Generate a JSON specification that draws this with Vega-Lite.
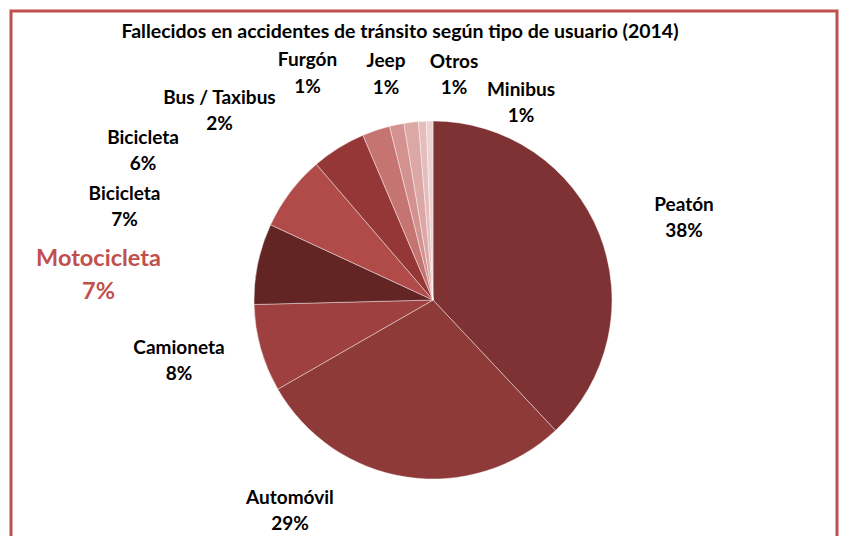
{
  "$schema": "https://vega.github.io/schema/vega-lite/v6.json",
  "width": 826,
  "height": 578,
  "autosize": "none",
  "padding": {"left": 11, "top": 11, "right": 10, "bottom": 0},
  "background": "#ffffff",
  "view": {"stroke": "#c0504d", "strokeWidth": 3},
  "title": {
    "text": "Fallecidos en accidentes de tránsito según tipo de usuario (2014)",
    "font": "Lato",
    "fontSize": 19.5,
    "fontWeight": "bold",
    "color": "#000000",
    "anchor": "middle",
    "dx": -24,
    "offset": -31
  },
  "data": {
    "values": [
      {"id": 1, "tipo": "Peatón", "pct": "38%", "valor": 38.0},
      {"id": 2, "tipo": "Automóvil", "pct": "29%", "valor": 28.7},
      {"id": 3, "tipo": "Camioneta", "pct": "8%", "valor": 7.9},
      {"id": 4, "tipo": "Motocicleta", "pct": "7%", "valor": 7.3},
      {"id": 5, "tipo": "Bicicleta", "pct": "7%", "valor": 6.8},
      {"id": 6, "tipo": "Bicicleta", "pct": "6%", "valor": 4.9},
      {"id": 7, "tipo": "Bus / Taxibus", "pct": "2%", "valor": 2.5},
      {"id": 8, "tipo": "Furgón", "pct": "1%", "valor": 1.3},
      {"id": 9, "tipo": "Jeep", "pct": "1%", "valor": 1.3},
      {"id": 10, "tipo": "Otros", "pct": "1%", "valor": 0.7},
      {"id": 11, "tipo": "Minibus", "pct": "1%", "valor": 0.6}
    ]
  },
  "transform": [
    {"stack": "valor", "groupby": [], "sort": [{"field": "id", "order": "ascending"}], "as": ["t0", "t1"]},
    {"calculate": "(datum.t0 + datum.t1) / 2", "as": "tm"},
    {"calculate": "[datum.tipo, datum.pct]", "as": "etiqueta"}
  ],
  "layer": [
    {
      "mark": {"type": "arc", "radius": 179, "xOffset": 9, "stroke": "#ffffff", "strokeWidth": 0.6, "strokeOpacity": 0.7},
      "encoding": {
        "theta": {"field": "t0", "type": "quantitative", "stack": null, "scale": {"domain": [0, 100]}},
        "theta2": {"field": "t1"},
        "color": {
          "field": "id",
          "type": "nominal",
          "legend": null,
          "scale": {
            "domain": [1, 2, 3, 4, 5, 6, 7, 8, 9, 10, 11],
            "range": ["#7f3233", "#8e3a39", "#9e403f", "#632523", "#b04b49", "#953736", "#c67471", "#d39190", "#dba8a6", "#e4bdbc", "#ecd2d2"]
          }
        }
      }
    },
    {
      "transform": [{"filter": "datum.id == 1"}],
      "mark": {"type": "text", "radius": 179, "dx": 93.6, "dy": -29.35, "font": "Lato", "fontWeight": "bold", "fontSize": 19, "lineHeight": 26.5, "align": "center", "baseline": "middle", "color": "#000000"},
      "encoding": {"theta": {"field": "tm", "type": "quantitative", "stack": null}, "text": {"field": "etiqueta"}}
    },
    {
      "transform": [{"filter": "datum.id == 2"}],
      "mark": {"type": "text", "radius": 179, "dx": -107.7, "dy": 20.65, "font": "Lato", "fontWeight": "bold", "fontSize": 19, "lineHeight": 26.5, "align": "center", "baseline": "middle", "color": "#000000"},
      "encoding": {"theta": {"field": "tm", "type": "quantitative", "stack": null}, "text": {"field": "etiqueta"}}
    },
    {
      "transform": [{"filter": "datum.id == 3"}],
      "mark": {"type": "text", "radius": 179, "dx": -72.6, "dy": -0.55, "font": "Lato", "fontWeight": "bold", "fontSize": 19, "lineHeight": 26.5, "align": "center", "baseline": "middle", "color": "#000000"},
      "encoding": {"theta": {"field": "tm", "type": "quantitative", "stack": null}, "text": {"field": "etiqueta"}}
    },
    {
      "transform": [{"filter": "datum.id == 4"}],
      "mark": {"type": "text", "radius": 179, "dx": -150.2, "dy": -5.2, "font": "Lato", "fontWeight": "bold", "fontSize": 23.5, "lineHeight": 33, "align": "center", "baseline": "middle", "color": "#c0504d"},
      "encoding": {"theta": {"field": "tm", "type": "quantitative", "stack": null}, "text": {"field": "etiqueta"}}
    },
    {
      "transform": [{"filter": "datum.id == 5"}],
      "mark": {"type": "text", "radius": 179, "dx": -156.7, "dy": 1.65, "font": "Lato", "fontWeight": "bold", "fontSize": 19, "lineHeight": 26.5, "align": "center", "baseline": "middle", "color": "#000000"},
      "encoding": {"theta": {"field": "tm", "type": "quantitative", "stack": null}, "text": {"field": "etiqueta"}}
    },
    {
      "transform": [{"filter": "datum.id == 6"}],
      "mark": {"type": "text", "radius": 179, "dx": -186.5, "dy": -10.25, "font": "Lato", "fontWeight": "bold", "fontSize": 19, "lineHeight": 26.5, "align": "center", "baseline": "middle", "color": "#000000"},
      "encoding": {"theta": {"field": "tm", "type": "quantitative", "stack": null}, "text": {"field": "etiqueta"}}
    },
    {
      "transform": [{"filter": "datum.id == 7"}],
      "mark": {"type": "text", "radius": 179, "dx": -147.6, "dy": -32.55, "font": "Lato", "fontWeight": "bold", "fontSize": 19, "lineHeight": 26.5, "align": "center", "baseline": "middle", "color": "#000000"},
      "encoding": {"theta": {"field": "tm", "type": "quantitative", "stack": null}, "text": {"field": "etiqueta"}}
    },
    {
      "transform": [{"filter": "datum.id == 8"}],
      "mark": {"type": "text", "radius": 179, "dx": -80.2, "dy": -64.45, "font": "Lato", "fontWeight": "bold", "fontSize": 19, "lineHeight": 26.5, "align": "center", "baseline": "middle", "color": "#000000"},
      "encoding": {"theta": {"field": "tm", "type": "quantitative", "stack": null}, "text": {"field": "etiqueta"}}
    },
    {
      "transform": [{"filter": "datum.id == 9"}],
      "mark": {"type": "text", "radius": 179, "dx": -16.1, "dy": -61.05, "font": "Lato", "fontWeight": "bold", "fontSize": 19, "lineHeight": 26.5, "align": "center", "baseline": "middle", "color": "#000000"},
      "encoding": {"theta": {"field": "tm", "type": "quantitative", "stack": null}, "text": {"field": "etiqueta"}}
    },
    {
      "transform": [{"filter": "datum.id == 10"}],
      "mark": {"type": "text", "radius": 179, "dx": 40.7, "dy": -59.55, "font": "Lato", "fontWeight": "bold", "fontSize": 19, "lineHeight": 26.5, "align": "center", "baseline": "middle", "color": "#000000"},
      "encoding": {"theta": {"field": "tm", "type": "quantitative", "stack": null}, "text": {"field": "etiqueta"}}
    },
    {
      "transform": [{"filter": "datum.id == 11"}],
      "mark": {"type": "text", "radius": 179, "dx": 100.4, "dy": -31.25, "font": "Lato", "fontWeight": "bold", "fontSize": 19, "lineHeight": 26.5, "align": "center", "baseline": "middle", "color": "#000000"},
      "encoding": {"theta": {"field": "tm", "type": "quantitative", "stack": null}, "text": {"field": "etiqueta"}}
    }
  ]
}
